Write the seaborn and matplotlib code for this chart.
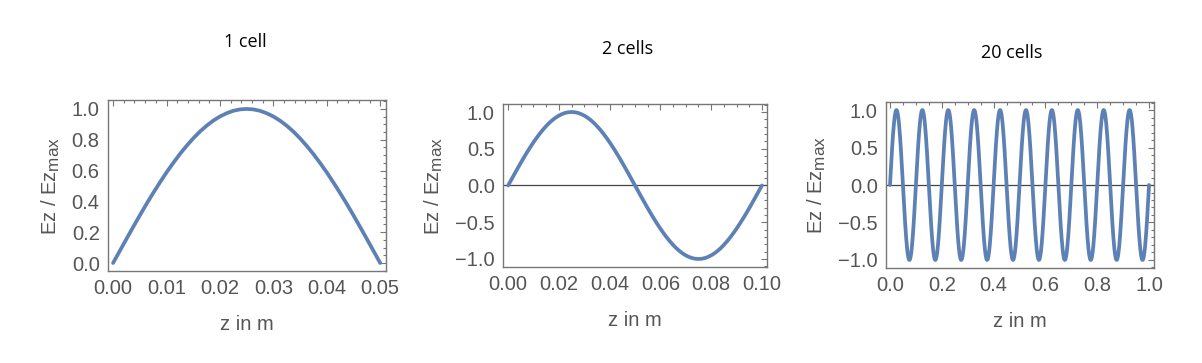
import numpy as np
import pandas as pd
import matplotlib
matplotlib.use("Agg")
import matplotlib.pyplot as plt
from matplotlib.ticker import MultipleLocator, FuncFormatter
import seaborn as sns

# ------------------------------------------------------------
# Datos
# ------------------------------------------------------------
titulos = ["1 cell", "2 cells", "20 cells"]
n_celdas = [1, 2, 20]
largo_celda = 0.05  # m

# perfil de Ez/Ezmax dentro de una celda (41 puntos, de 0 a 1 del largo)
medio_perfil = [0.0, 0.078, 0.156, 0.233, 0.309, 0.383, 0.454, 0.522, 0.588, 0.649,
                0.707, 0.760, 0.809, 0.853, 0.891, 0.924, 0.951, 0.972, 0.988, 0.997]
perfil_celda = medio_perfil + [1.0] + medio_perfil[::-1]

xticks_major = [0.01, 0.02, 0.2]
xticks_minor = [0.002, 0.005, 0.05]
yticks_major = [0.2, 0.5, 0.5]
yticks_minor = [0.05, 0.1, 0.1]
xdec = [2, 2, 1]

# posiciones de los ejes (fracciones de figura) y limites
posiciones = [[0.0899, 0.2534, 0.2313, 0.4711],
              [0.4185, 0.2645, 0.2196, 0.4490],
              [0.7371, 0.2617, 0.2230, 0.4573]]
xlims = [(-0.00094, 0.0511), (-0.002, 0.102), (-0.0154, 1.0193)]
ylims = [(-0.052, 1.058), (-1.109, 1.109), (-1.107, 1.107)]
titulo_xy = [(245, 42), (628, 49), (1012, 53)]

# ------------------------------------------------------------
# Estilo
# ------------------------------------------------------------
sns.set_style("white")
plt.rcParams['font.family'] = ['Liberation Sans', 'DejaVu Sans']
plt.rcParams['mathtext.fontset'] = 'custom'
plt.rcParams['mathtext.rm'] = 'Liberation Sans'
plt.rcParams['mathtext.it'] = 'Liberation Sans'

# subindice un poco mas grande, como en el original
import matplotlib._mathtext as _mt
_mt.SHRINK_FACTOR = 0.85

azul = '#5E81B5'
gris_marco = '#777777'
gris_texto = '#555555'


def formato(dec):
    def f(v, pos):
        s = f"{v:.{dec}f}"
        if s.startswith('-'):
            if float(s) == 0:
                s = s[1:]
            else:
                s = '\u2212' + s[1:]
        return s
    return FuncFormatter(f)


W, H = 1202, 363
fig = plt.figure(figsize=(W / 100, H / 100), dpi=100)

for i in range(3):
    # construir la curva a partir del perfil de celda
    z, ez = [], []
    paso = largo_celda / (len(perfil_celda) - 1)
    for c in range(n_celdas[i]):
        signo = 1 if c % 2 == 0 else -1
        inicio = 0 if c == 0 else 1
        for k in range(inicio, len(perfil_celda)):
            z.append(c * largo_celda + k * paso)
            ez.append(signo * perfil_celda[k])
    df = pd.DataFrame({'z': z, 'ez': ez})

    ax = fig.add_axes(posiciones[i])
    if i > 0:
        ax.axhline(0, color='#444444', linewidth=0.9, zorder=1)
    sns.lineplot(data=df, x='z', y='ez', ax=ax, color=azul, linewidth=2.7,
                 sort=False, zorder=3)

    ax.set_xlim(*xlims[i])
    ax.set_ylim(*ylims[i])
    ax.xaxis.set_major_locator(MultipleLocator(xticks_major[i]))
    ax.xaxis.set_minor_locator(MultipleLocator(xticks_minor[i]))
    ax.yaxis.set_major_locator(MultipleLocator(yticks_major[i]))
    ax.yaxis.set_minor_locator(MultipleLocator(yticks_minor[i]))
    ax.xaxis.set_major_formatter(formato(xdec[i]))
    ax.yaxis.set_major_formatter(formato(1))

    ax.tick_params(which='both', direction='in', top=True, right=True,
                   color=gris_marco, width=0.8)
    ax.tick_params(which='major', length=4, labelsize=14.5,
                   labelcolor=gris_texto, pad=6)
    ax.tick_params(which='minor', length=2)
    for s in ax.spines.values():
        s.set_color(gris_marco)
        s.set_linewidth(1.0)

    ax.set_xlabel("z in m", fontsize=14.5, color=gris_texto, labelpad=12)
    ax.set_ylabel(r"Ez / Ez$_{\mathrm{max}}$", fontsize=14.5, color=gris_texto,
                  labelpad=7)

    tx, ty = titulo_xy[i]
    fig.text(tx / W, 1 - ty / H, titulos[i], ha='center', va='center',
             fontsize=13, color='black', family=['Open Sans', 'DejaVu Sans'])

plt.savefig('out.png', dpi=100)
